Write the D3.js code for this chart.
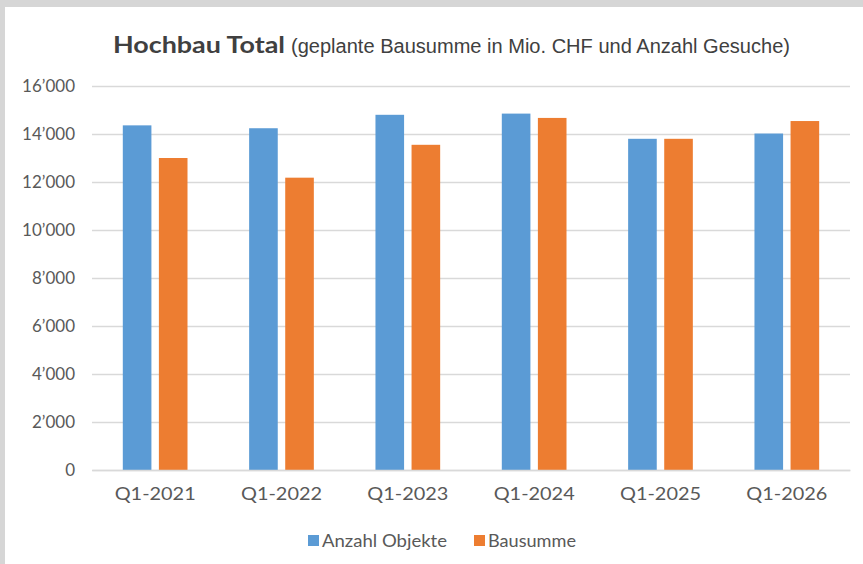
<!DOCTYPE html>
<html><head><meta charset="utf-8">
<script src="https://cdn.jsdelivr.net/npm/d3@7"></script>
<style>
html,body{margin:0;padding:0;background:#fff;}
svg{display:block;}
</style></head>
<body>
<svg id="chart" width="863" height="564"></svg>
<script>
const categories = ["Q1-2021","Q1-2022","Q1-2023","Q1-2024","Q1-2025","Q1-2026"];
const seriesNames = ["Anzahl Objekte","Bausumme"];
const anzahlObjekte = [14360, 14240, 14800, 14850, 13800, 14020];
const bausumme = [13000, 12180, 13550, 14670, 13800, 14540];
const yTicks = [0,2000,4000,6000,8000,10000,12000,14000,16000];
const colors = ["#5B9BD5","#ED7D31"];

const svg = d3.select("#chart");
const W = 863, H = 564;
// frame
svg.append("rect").attr("x",0).attr("y",0).attr("width",W).attr("height",H).attr("fill","#d6d6d6");
svg.append("rect").attr("x",5).attr("y",7).attr("width",W-5).attr("height",H-7).attr("fill","#ffffff");

const x0 = d3.scaleBand().domain(categories).range([92,850]).paddingInner(0).paddingOuter(0);
const x1 = d3.scaleBand().domain(seriesNames).range([30.8, 30.8+64.7]).paddingInner(0.207).paddingOuter(0);
const y = d3.scaleLinear().domain([0,16000]).range([470,86]);

const fmt = v => d3.format(",")(v).replace(/,/g,"\u2019");
const FONT = "Lato, 'Open Sans', sans-serif";

// gridlines
const yAxis = d3.axisLeft(y).tickValues(yTicks).tickSize(-(850-92)).tickFormat(fmt).tickPadding(17);
const gy = svg.append("g").attr("transform","translate(92,0)").call(yAxis);
gy.select(".domain").remove();
gy.selectAll(".tick line").attr("stroke","#d9d9d9").attr("stroke-width",1.3);
gy.selectAll(".tick text").attr("fill","#595959").style("font-family",FONT).style("font-size","17px");

// bars
const data = categories.map((c,i)=>({cat:c, vals:[anzahlObjekte[i], bausumme[i]]}));
const groups = svg.append("g").selectAll("g").data(data).join("g")
  .attr("transform", d=>`translate(${x0(d.cat)},0)`);
groups.selectAll("rect").data(d=>d.vals.map((v,j)=>({name:seriesNames[j], v, j})))
  .join("rect")
  .attr("x", d=>x1(d.name))
  .attr("width", x1.bandwidth())
  .attr("y", d=>y(d.v))
  .attr("height", d=>y(0)-y(d.v))
  .attr("fill", d=>colors[d.j]);

// x axis
const xAxis = d3.axisBottom(x0).tickSize(0).tickPadding(17);
const gx = svg.append("g").attr("transform","translate(0,470)").call(xAxis);
gx.select(".domain").attr("stroke","#d9d9d9").attr("stroke-width",1.3);
gx.selectAll(".tick text").attr("fill","#595959").style("font-family",FONT).style("font-size","18px")
  .attr("textLength",81).attr("lengthAdjust","spacingAndGlyphs");

// title
svg.append("text").attr("x",113).attr("y",53)
  .attr("textLength",172).attr("lengthAdjust","spacingAndGlyphs")
  .style("font-family",FONT).style("font-weight","bold").style("font-size","23px")
  .attr("fill","#404040").text("Hochbau Total");
svg.append("text").attr("x",291).attr("y",53)
  .attr("textLength",499).attr("lengthAdjust","spacingAndGlyphs")
  .style("font-family","'Liberation Sans', Arial, sans-serif").style("font-size","20px")
  .attr("fill","#404040").text("(geplante Bausumme in Mio. CHF und Anzahl Gesuche)");

// legend
const legendX = [308, 474];
const legendW = [125, 88];
const leg = svg.append("g").selectAll("g").data(seriesNames).join("g")
  .attr("transform",(d,i)=>`translate(${legendX[i]},535)`);
leg.append("rect").attr("width",11).attr("height",11).attr("fill",(d,i)=>colors[i]);
leg.append("text").attr("x",14).attr("y",12)
  .attr("textLength",(d,i)=>legendW[i]).attr("lengthAdjust","spacingAndGlyphs")
  .style("font-family",FONT).style("font-size","18px")
  .attr("fill","#595959").text(d=>d);
</script>
</body></html>
